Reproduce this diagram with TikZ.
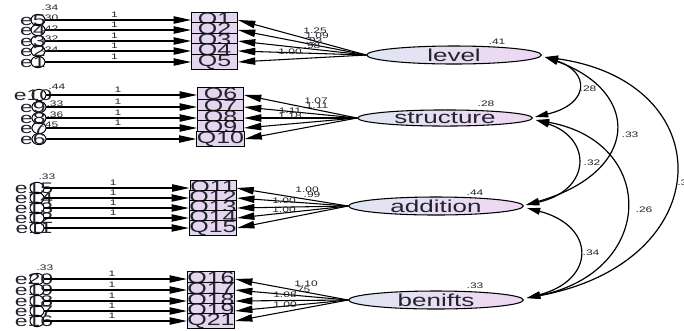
\documentclass[tikz,border=0pt]{standalone}
\usepackage{fontspec}
\setmainfont{Liberation Sans}[FakeStretch=1.5]
\usetikzlibrary{arrows.meta,shapes.geometric,calc}
\definecolor{boxfill}{RGB}{228,214,238}
\definecolor{ellL}{RGB}{224,230,242}
\definecolor{ellR}{RGB}{238,214,242}
\definecolor{txt}{RGB}{35,35,45}
\begin{document}
\begin{tikzpicture}[x=0.75pt,y=-0.75pt,
  qbox/.style={draw, line width=0.7pt, fill=boxfill, minimum width=34.5pt, minimum height=11pt, inner sep=0pt, font=\fontsize{12.5}{12.5}\selectfont, text=txt},
  lat/.style={ellipse, draw, line width=0.8pt, left color=ellL, right color=ellR, minimum width=131pt, minimum height=11.5pt, inner sep=0pt, font=\fontsize{13}{13}\selectfont, text=txt},
  errc/.style={ellipse, draw, line width=0.7pt, minimum width=10.5pt, minimum height=8.5pt, inner sep=0pt},
  etxt/.style={inner sep=0pt, font=\fontsize{11.5}{11.5}\selectfont, text=txt},
  lbl/.style={inner sep=0pt, font=\fontsize{6}{6}\selectfont, text=txt},
  arr/.style={-{Triangle[length=13pt,width=5.5pt]}, line width=0.8pt},
  cov/.style={{Triangle[length=10pt,width=5pt]}-{Triangle[length=10pt,width=5pt]}, line width=0.9pt}
]
\useasboundingbox (0,0) rectangle (684,330);

% ---------- latent variables ----------
\node[lat] (level) at (454,55) {level};
\node[lat] (structure) at (445,118) {structure};
\node[lat] (addition) at (436,206) {addition};
\node[lat] (benifts) at (436,300) {benifts};
\node[lbl] (vlevel) at (497,42) {.41};
\node[lbl] (vstructure) at (486,104) {.28};
\node[lbl] (vaddition) at (475,193) {.44};
\node[lbl] (vbenifts) at (475,286) {.33};

% ---------- group 1 ----------
\foreach \q/\e/\y/\v in {1/5/20/.34,2/4/30/.30,3/3/41/.42,4/2/51/.32,5/1/62/.24}{
  \node[lbl] (ve\e) at (50,\y-12) {\v};
  \node[qbox] (q\q) at (214.5,\y) {Q\q};
  \node[errc] (e\e) at (38,\y) {};
  \node[etxt] (te\e) at (33,\y) {e\e};
  \draw[arr] (e\e) -- (q\q.west);
  \node[lbl, above=2pt] (one\e) at ($(e\e)!0.5!(q\q.west)$) {1};
  \draw[arr] (level.west) -- (q\q.east);
}
\node[lbl] (l1) at (315,31) {1.25};
\node[lbl] (l2) at (317,36) {1.09};
\node[lbl] (l3) at (314,41) {.93};
\node[lbl] (l4) at (312,46) {.98};
\node[lbl] (l5) at (290,52) {1.00};

% ---------- group 2 ----------
\foreach \q/\e/\y in {6/10/95,7/9/107,8/8/118,9/7/128,10/6/139}{
  \node[qbox, minimum height=10.5pt] (q\q) at (220.5,\y) {Q\q};
  \node[errc] (e\e) at (39,\y) {};
  \node[etxt] (te\e) at (33,\y) {e\e};
  \draw[arr] (e\e) -- (q\q.west);
  \draw[arr] (structure.west) -- (q\q.east);
}
\foreach \e in {10,9,8,7}{
  \node[lbl, above=2pt] (one\e) at ($(e\e)!0.5!(q6.west|-e\e)$) {1};
}
\node[lbl] (ve10) at (57,87) {.44};
\node[lbl] (ve9) at (55,104) {.33};
\node[lbl] (ve8) at (55,115) {.36};
\node[lbl] (ve7) at (50,125) {.45};
\node[lbl] (l6) at (316,101) {1.07};
\node[lbl] (l7) at (317,106) {1.11};
\node[lbl] (l8) at (290,111) {1.11};
\node[lbl] (l9) at (290,116) {1.18};

% ---------- group 3 ----------
\foreach \q/\e/\y in {11/15/188,12/14/198,13/13/208,14/12/218,15/11/228}{
  \node[qbox] (q\q) at (213,\y) {Q\q};
  \node[errc] (e\e) at (37,\y) {};
  \node[etxt] (te\e) at (34,\y) {e\e};
  \draw[arr] (e\e) -- (q\q.west);
  \draw[arr] (addition.west) -- (q\q.east);
}
\foreach \e in {15,14,13,12}{
  \node[lbl, above=2pt] (one\e) at ($(e\e)!0.5!(q11.west|-e\e)$) {1};
}
\node[lbl] (ve15) at (47,177) {.33};
\node[lbl] (l11) at (307,190) {1.00};
\node[lbl] (l12) at (312,195) {.99};
\node[lbl] (l13) at (284,201) {1.00};
\node[lbl] (l14) at (284,210) {1.00};

% ---------- group 4 ----------
\foreach \q/\e/\y in {16/20/279,17/19/290,18/18/301,19/17/311,21/16/321}{
  \node[qbox] (q\q) at (211,\y) {Q\q};
  \node[errc] (e\e) at (37,\y) {};
  \node[etxt] (te\e) at (34,\y) {e\e};
  \draw[arr] (e\e) -- (q\q.west);
  \draw[arr] (benifts.west) -- (q\q.east);
}
\foreach \e in {20,19,18,17,16}{
  \node[lbl, above=2pt] (one\e) at ($(e\e)!0.5!(q16.west|-e\e)$) {1};
}
\node[lbl] (ve20) at (45,268) {.33};
\node[lbl] (l16) at (306,284) {1.10};
\node[lbl] (l17) at (302,290) {.75};
\node[lbl] (l18) at (285,295) {1.08};
\node[lbl] (l19) at (285,305) {1.00};

% ---------- covariances ----------
\coordinate (lvA) at ($(level.east)+(3,2)$);
\coordinate (stA) at ($(structure.east)+(2,-1)$);
\coordinate (stB) at ($(structure.east)+(3,2)$);
\coordinate (adA) at ($(addition.east)+(2,-1)$);
\coordinate (adB) at ($(addition.east)+(3,2)$);
\coordinate (bnA) at ($(benifts.east)+(3,-2)$);
\draw[cov] (lvA) .. controls (590,72) and (590,104) .. (stA);
\draw[cov] (lvA) .. controls (642,92) and (640,172) .. (adA);
\draw[cov] (lvA) .. controls (722,82) and (720,262) .. (bnA);
\draw[cov] (stB) .. controls (592,138) and (592,190) .. (adA);
\draw[cov] (stB) .. controls (658,142) and (656,272) .. (bnA);
\draw[cov] (adB) .. controls (596,226) and (596,280) .. (bnA);
\node[lbl] (c1) at (588,89) {.28};
\node[lbl] (c2) at (630,135) {.33};
\node[lbl, anchor=west] (c3) at (677,183) {.31};
\node[lbl] (c4) at (592,163) {.32};
\node[lbl] (c5) at (644,210) {.26};
\node[lbl] (c6) at (591,253) {.34};
\end{tikzpicture}
\end{document}
